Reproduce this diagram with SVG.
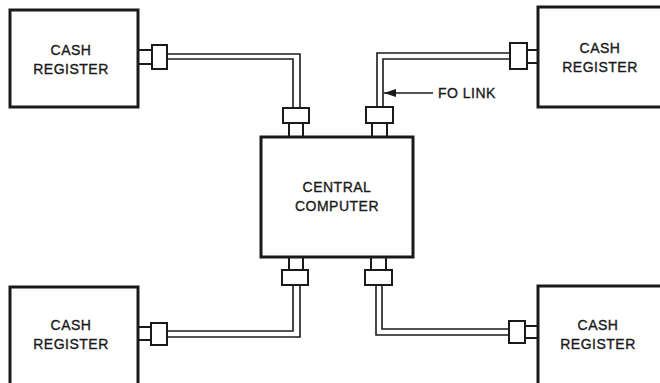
<svg xmlns="http://www.w3.org/2000/svg" width="660" height="383" viewBox="0 0 660 383">
<defs>
<style>
.box{fill:#fff;stroke:#1a1a1a;stroke-width:3}
.con{fill:#fff;stroke:#1a1a1a;stroke-width:2}
.cab{fill:none;stroke:#1a1a1a;stroke-width:1.6}
.lbl{font-family:"Liberation Sans",Arial,sans-serif;font-size:14px;letter-spacing:0.5px;fill:#1a1a1a;stroke:#1a1a1a;stroke-width:0.35;text-anchor:middle}
.note{font-family:"Liberation Sans",Arial,sans-serif;font-size:14px;letter-spacing:0.5px;fill:#1a1a1a;stroke:#1a1a1a;stroke-width:0.35}
</style>
<marker id="ah" viewBox="0 0 12 8" refX="12" refY="4" markerWidth="12" markerHeight="8" markerUnits="userSpaceOnUse" orient="auto">
<path d="M0,0 L12,4 L0,8 Z" fill="#1a1a1a"/>
</marker>
</defs>
<rect width="660" height="383" fill="#fff"/>
<g id="connectors">
<path class="cab" d="M167,54 H300 V108"/>
<path class="cab" d="M167,59 H293 V108"/>
<path class="cab" d="M510,53 H377 V107"/>
<path class="cab" d="M510,59 H383 V107"/>
<path class="cab" d="M293,285 V331 H167"/>
<path class="cab" d="M300,285 V337 H167"/>
<path class="cab" d="M382,285 V329 H509"/>
<path class="cab" d="M376,285 V335 H509"/>
<rect class="con" x="138" y="50" width="14" height="14"/>
<rect class="con" x="152" y="45" width="15" height="24"/>
<rect class="con" x="283" y="108" width="26" height="15"/>
<rect class="con" x="289" y="123" width="14" height="14"/>
<rect class="con" x="366" y="107" width="27" height="16"/>
<rect class="con" x="372" y="123" width="15" height="14"/>
<rect class="con" x="510" y="43" width="17" height="26"/>
<rect class="con" x="527" y="50" width="11" height="13"/>
<rect class="con" x="289" y="257" width="14" height="13"/>
<rect class="con" x="282" y="270" width="26" height="15"/>
<rect class="con" x="151" y="323" width="16" height="22"/>
<rect class="con" x="138" y="327" width="13" height="13"/>
<rect class="con" x="371" y="257" width="15" height="13"/>
<rect class="con" x="365" y="270" width="27" height="15"/>
<rect class="con" x="509" y="321" width="16" height="22"/>
<rect class="con" x="525" y="326" width="13" height="12"/>
<line x1="433" y1="93" x2="384" y2="93" stroke="#1a1a1a" stroke-width="1.5" marker-end="url(#ah)"/>
<text class="note" x="438" y="98">FO LINK</text>
</g>
<g id="cash-register-tl">
<rect class="box" x="10" y="10" width="128" height="97"/>
<text class="lbl" x="71" y="55">CASH</text>
<text class="lbl" x="71" y="74">REGISTER</text>
</g>
<g id="cash-register-tr">
<rect class="box" x="538" y="7" width="130" height="100"/>
<text class="lbl" x="600" y="53">CASH</text>
<text class="lbl" x="600" y="72">REGISTER</text>
</g>
<g id="central-computer">
<rect class="box" x="261" y="137" width="152" height="120"/>
<text class="lbl" x="337" y="192">CENTRAL</text>
<text class="lbl" x="337" y="211">COMPUTER</text>
</g>
<g id="cash-register-bl">
<rect class="box" x="10" y="287" width="128" height="110"/>
<text class="lbl" x="71" y="330">CASH</text>
<text class="lbl" x="71" y="349">REGISTER</text>
</g>
<g id="cash-register-br">
<rect class="box" x="538" y="286" width="130" height="110"/>
<text class="lbl" x="598" y="330">CASH</text>
<text class="lbl" x="598" y="349">REGISTER</text>
</g>
</svg>
